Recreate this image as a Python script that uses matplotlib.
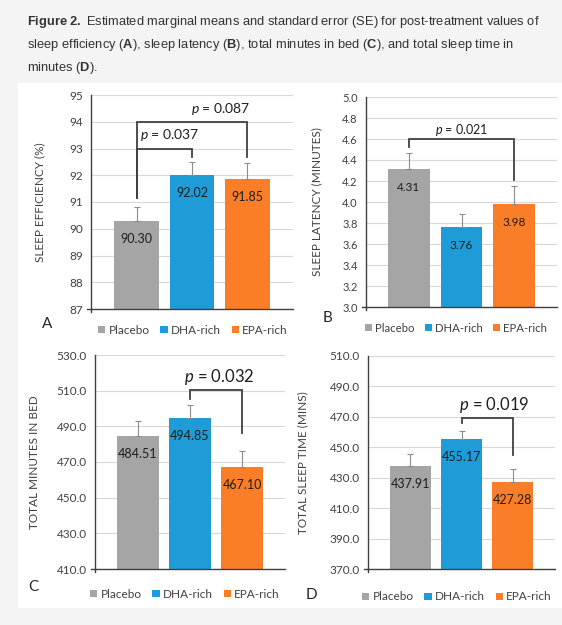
import matplotlib.pyplot as plt
from matplotlib.patches import Patch, Rectangle

plt.rcParams['mathtext.fontset'] = 'custom'
plt.rcParams['mathtext.it'] = 'Lato:italic'
plt.rcParams['mathtext.bf'] = 'Liberation Sans:bold'
plt.rcParams['mathtext.rm'] = 'Liberation Sans'

# Data
groups = ["Placebo", "DHA-rich", "EPA-rich"]
colors = ["#A5A5A5", "#1F9BD7", "#FA7D28"]

eff_mean = [90.30, 92.02, 91.85]
eff_se = [0.52, 0.49, 0.60]
lat_mean = [4.31, 3.76, 3.98]
lat_se = [0.16, 0.13, 0.17]
bed_mean = [484.51, 494.85, 467.10]
bed_se = [8.5, 7.0, 9.1]
tst_mean = [437.91, 455.17, 427.28]
tst_se = [7.6, 5.8, 8.3]

W, H = 562, 625
fig = plt.figure(figsize=(W / 100, H / 100), dpi=100)
fig.patch.set_facecolor("#F4F4F4")
fig.patches.append(Rectangle((18 / W, 1 - 608 / H), (W - 18) / W, (608 - 83) / H,
                             transform=fig.transFigure, facecolor="white",
                             edgecolor="none", zorder=-5))


def px_ax(l, t, r, b):
    return fig.add_axes([l / W, 1 - b / H, (r - l) / W, (b - t) / H])


def tfont(size, **kw):
    return dict(fontsize=size, family="Lato", **kw)


def panel(ax, means, se, ylim, yticks, fmt, ylabel, labx, lab_size, val_size):
    x = range(len(groups))
    ax.bar(x, [m - ylim[0] for m in means], bottom=ylim[0], width=0.8,
           color=colors, zorder=2)
    ax.errorbar(x, means, yerr=[[0] * 3, se], fmt="none", ecolor="#8C8C8C",
                elinewidth=0.8, capsize=2.2, capthick=0.8, zorder=3)
    for i, m in enumerate(means):
        ax.annotate(f"{m:.2f}", (i, m), xytext=(0, -13), textcoords="offset points",
                    ha="center", va="center", color="#1E1E1E", **tfont(val_size))
    ax.set_xlim(-0.82, 2.82)
    ax.set_ylim(*ylim)
    ax.set_yticks(yticks)
    ax.set_yticklabels([fmt.format(t) for t in yticks], **tfont(lab_size), color="#404040")
    ax.set_xticks([])
    ax.tick_params(axis="y", length=0, pad=6)
    ax.grid(axis="y", color="#D9D9D9", lw=0.8, zorder=0)
    for s in ["top", "right"]:
        ax.spines[s].set_visible(False)
    ax.spines["left"].set_color("#404040")
    ax.spines["bottom"].set_color("#404040")
    ax.spines["left"].set_linewidth(1.0)
    ax.spines["bottom"].set_linewidth(1.0)
    # small cross at the origin, as in the source
    ax.plot([-0.02, 0], [0, 0], transform=ax.transAxes, color="#404040", lw=1.0, clip_on=False)
    ax.plot([0, 0], [-0.015, 0], transform=ax.transAxes, color="#404040", lw=1.0, clip_on=False)
    ax.set_ylabel(ylabel, **tfont(8.5), color="#404040")
    ax.yaxis.set_label_coords(labx, 0.5)


def bracket(ax, i, j, ytop, yi, yj, label, tx, ty, size):
    ax.plot([i, i, j, j], [yi, ytop, ytop, yj], color="#404040", lw=1.3, zorder=4,
            solid_joinstyle="miter")
    ax.text(tx, ty, label, ha="center", va="center", color="#1E1E1E", **tfont(size))


def legend(cx, cy, size=8.5):
    handles = [Patch(facecolor=c, edgecolor="none") for c in colors]
    fig.legend(handles, groups, loc="center", bbox_to_anchor=(cx / W, 1 - cy / H),
               ncol=3, frameon=False, handlelength=0.6, handleheight=0.6,
               handletextpad=0.3, columnspacing=0.9,
               prop=dict(family="Lato", size=size), labelcolor="#404040")


# A
axA = px_ax(91, 95, 293, 309)
panel(axA, eff_mean, eff_se, (87, 95), list(range(87, 96)), "{:.0f}",
      "SLEEP EFFICIENCY (%)", -0.228, 8.5, 9)
bracket(axA, 0, 2, 94.0, 91.15, 92.68, "$p$ = 0.087", 1.52, 94.48, 10)
bracket(axA, 0, 1, 93.0, 91.15, 92.7, "$p$ = 0.037", 0.59, 93.5, 10)
legend(193, 330)
fig.text(47 / W, 1 - 324 / H, "A", ha="center", va="center", **tfont(11), color="#262626")

# B
axB = px_ax(366, 97, 557, 307)
lat_ticks = [3.0 + 0.2 * k for k in range(11)]
panel(axB, lat_mean, lat_se, (3.0, 5.0), lat_ticks, "{:.1f}",
      "SLEEP LATENCY (MINUTES)", -0.228, 8, 8.5)
bracket(axB, 0, 2, 4.60, 4.52, 4.21, "$p$ = 0.021", 1.01, 4.69, 9)
legend(456, 328, 8.2)
fig.text(327 / W, 1 - 318 / H, "B", ha="center", va="center", **tfont(11), color="#262626")

# C
axC = px_ax(95, 355, 285, 569)
panel(axC, bed_mean, bed_se, (410, 530), list(range(410, 531, 20)), "{:.1f}",
      "TOTAL MINUTES IN BED", -0.29, 8.5, 9)
bracket(axC, 1, 2, 510.4, 505.2, 486.5, "$p$ = 0.032", 1.56, 517.7, 12)
legend(185, 594)
fig.text(33 / W, 1 - 587 / H, "C", ha="center", va="center", **tfont(11), color="#262626")

# D
axD = px_ax(368, 356, 555, 569)
panel(axD, tst_mean, tst_se, (370, 510), list(range(370, 511, 20)), "{:.1f}",
      "TOTAL SLEEP TIME (MINS)", -0.32, 8.5, 9)
bracket(axD, 1, 2, 469.5, 465.8, 445.0, "$p$ = 0.019", 1.64, 477.8, 12)
legend(457, 597)
fig.text(311 / W, 1 - 595 / H, "D", ha="center", va="center", **tfont(11), color="#262626")

# Caption
caption = [
    r"$\mathbf{Figure\ 2.}$ Estimated marginal means and standard error (SE) for post-treatment values of",
    r"sleep efficiency ($\mathbf{A}$), sleep latency ($\mathbf{B}$), total minutes in bed ($\mathbf{C}$), and total sleep time in",
    r"minutes ($\mathbf{D}$).",
]
for k, line in enumerate(caption):
    fig.text(27 / W, 1 - (22 + 23 * k) / H, line, ha="left", va="center",
             fontsize=9.3, family="Liberation Sans", color="#333333")

fig.savefig("out.png", dpi=100, facecolor=fig.get_facecolor())
